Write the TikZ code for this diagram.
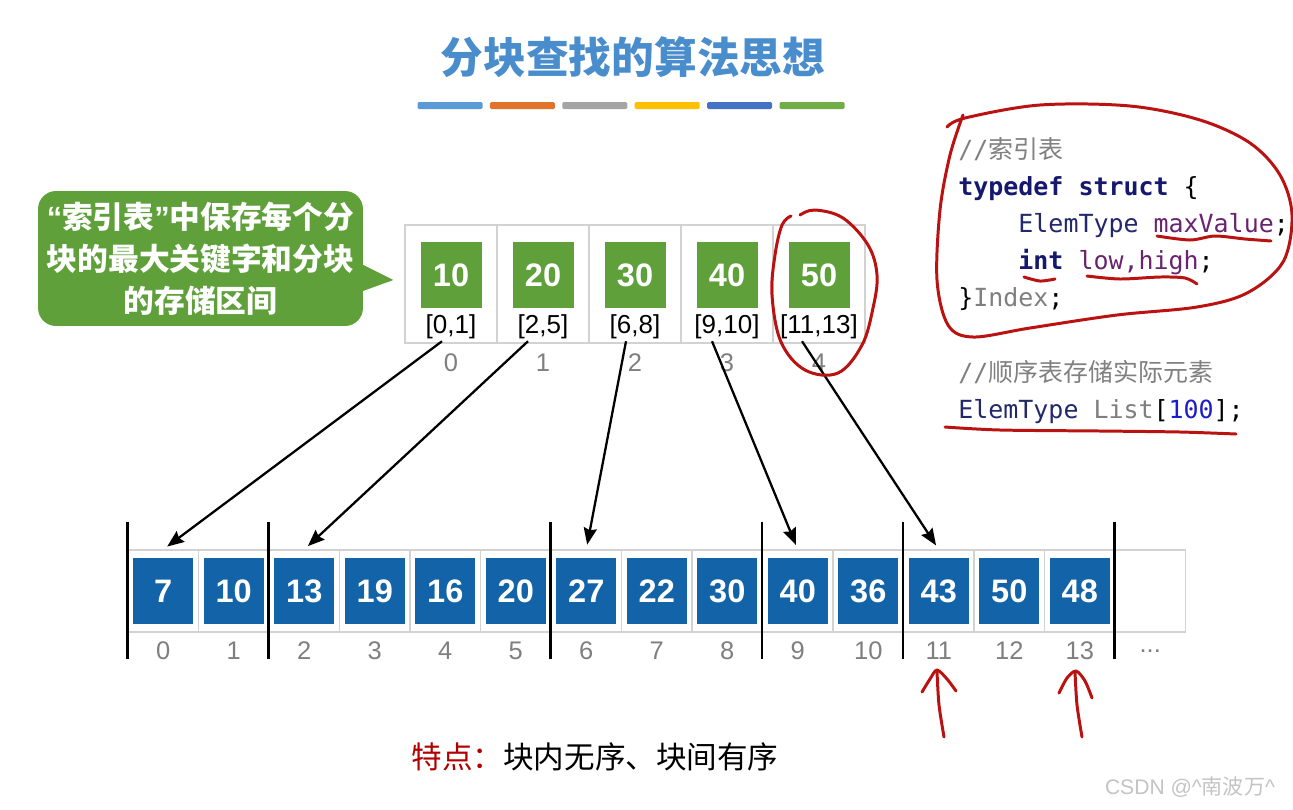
\documentclass[tikz,border=0pt]{standalone}
\usepackage{fontspec}
\setmainfont{Liberation Sans}
\newfontfamily\cjk{Noto Sans CJK SC}
\newfontfamily\codefont{DejaVu Sans Mono}
\usepackage{xcolor}
\usetikzlibrary{
    positioning,
    arrows.meta,
    calc
}

\definecolor{titleblue}{RGB}{74,141,204}
\definecolor{barA}{HTML}{5B9BD5}
\definecolor{barB}{HTML}{E2732A}
\definecolor{barC}{HTML}{A5A5A5}
\definecolor{barD}{HTML}{FFC000}
\definecolor{barE}{HTML}{4472C4}
\definecolor{barF}{HTML}{70AD47}
\definecolor{leafgreen}{HTML}{5FA03B}
\definecolor{arrblue}{HTML}{1263A7}
\definecolor{cellgray}{HTML}{D2D2D2}
\definecolor{idxgray}{HTML}{7F7F7F}
\definecolor{inkred}{HTML}{BA1111}
\definecolor{featred}{HTML}{B00000}
\definecolor{wmgray}{HTML}{C4C4C4}
\definecolor{kwnavy}{HTML}{15186E}
\definecolor{tynavy}{HTML}{22286A}
\definecolor{vrpurple}{HTML}{6A236F}
\definecolor{cmtgray}{HTML}{808080}
\definecolor{numblue}{HTML}{1C1CC8}

% code colouring
\newcommand{\kwd}[1]{\textcolor{kwnavy}{\bfseries #1}}
\newcommand{\typ}[1]{\textcolor{tynavy}{#1}}
\newcommand{\vrb}[1]{\textcolor{vrpurple}{#1}}
\newcommand{\gry}[1]{\textcolor{idxgray}{#1}}
\newcommand{\cmt}[1]{\textcolor{cmtgray}{#1}}
\newcommand{\nmb}[1]{\textcolor{numblue}{#1}}

\begin{document}
\begin{tikzpicture}[x=0.02cm, y=-0.02cm,
    bar/.style={minimum width=1.3cm, minimum height=0.14cm, inner sep=0pt, rounded corners=0.8pt},
    callout/.style={fill=leafgreen, rounded corners=0.36cm, minimum width=6.5cm, minimum height=2.7cm,
                    text=white, align=center, font=\cjk\bfseries\fontsize{17.5}{24}\selectfont},
    icell/.style={draw=cellgray, line width=0.6pt, minimum width=1.84cm, minimum height=2.36cm},
    gblk/.style={fill=leafgreen, text=white, minimum width=1.22cm, minimum height=1.32cm,
                 inner sep=0pt, font=\bfseries\fontsize{18.5}{18}\selectfont},
    ivl/.style={inner sep=1pt, font=\fontsize{14.8}{16}\selectfont},
    idx/.style={inner sep=0pt, text=idxgray, font=\fontsize{14.5}{16}\selectfont},
    cell/.style={draw=cellgray, line width=0.6pt, minimum width=1.41cm, minimum height=1.64cm},
    bblk/.style={fill=arrblue, text=white, minimum width=1.2cm, minimum height=1.32cm,
                 inner sep=0pt, font=\bfseries\fontsize{18.5}{18}\selectfont},
    sepline/.style={line width=1.7pt},
    arr/.style={-{Stealth[length=9.5pt, width=7.5pt, inset=1.2pt]}, line width=1.3pt, shorten >=2.8pt},
    code/.style={anchor=base west, inner sep=0pt, font=\codefont\fontsize{14.2}{17}\selectfont},
    ink/.style={draw=inkred, line width=1.7pt, line cap=round, line join=round}]

    \fill[white] (0,0) rectangle (1293,809);
    \useasboundingbox (0,0) rectangle (1293,809);

    % === TITLE ===
    \node[font=\cjk\bfseries\fontsize{24.3}{26}\selectfont, text=titleblue] (title) at (633,57) {分块查找的算法思想};
    \foreach \c [count=\i from 0] in {barA,barB,barC,barD,barE,barF}
        \node[bar, fill=\c] (bar\i) at ({450+72.4*\i},105.5) {};

    % === Callout ===
    \node[callout] (note) at (200.5,258.5)
      {{\rmfamily“}索引表{\rmfamily”}中保存每个分\\块的最大关键字和分块\\的存储区间};
    \fill[leafgreen] ($(note.east)+(-6,3.5)$) -- ($(note.east)+(30,21.5)$) -- ($(note.east)+(-6,34.5)$) -- cycle;

    % === Index table ===
    \foreach \v/\r [count=\i from 0] in {10/{[0,1]},20/{[2,5]},30/{[6,8]},40/{[9,10]},50/{[11,13]}} {
        \node[icell] (t\i) at ({451+92*\i},284) {};
        \node[gblk] (g\i) at ({451+92*\i},275) {\v};
        \node[ivl] (r\i) at ({451+92*\i},327) {\r};
        \node[idx] (ti\i) at ([yshift=-0.38cm]t\i.south) {\i};
    }

    % === Sequential list ===
    \foreach \v [count=\i from 0] in {7,10,13,19,16,20,27,22,30,40,36,43,50,48} {
        \node[cell] (c\i) at ({163.25+70.5*\i},591) {};
        \node[bblk] (a\i) at (c\i) {\v};
        \node[idx] (ai\i) at ([yshift=-0.36cm]c\i.south) {\i};
    }
    \node[cell] (c14) at ({163.25+70.5*14},591) {};
    \node[idx] (dots) at ([yshift=-0.38cm]c14.south) {...};

    % block borders
    \foreach \k in {0,2,6,9,11,14}
        \draw[sepline] ([yshift=0.56cm]c\k.north west) -- ([yshift=-0.52cm]c\k.south west);

    % index -> first element of block
    \draw[arr] ([xshift=-0.18cm]r0.south) -- (c0.north);
    \draw[arr] ([xshift=-0.30cm]r1.south) -- (c2.north);
    \draw[arr] ([xshift=-0.18cm]r2.south) -- (c6.north);
    \draw[arr] ([xshift=-0.30cm]r3.south) -- (c9.north);
    \draw[arr] ([xshift=-0.34cm]r4.south) -- (c11.north);

    % === Code ===
    \node[code] (l1) at (958,158) {\cmt{//\cjk 索引表}};
    \node[code] (l2) at (958,195) {\kwd{typedef} \kwd{struct} \{};
    \node[code] (l3) at (958,232) {\phantom{xxxx}\typ{ElemType} \vrb{maxValue};};
    \node[code] (l4) at (958,269) {\phantom{xxxx}\kwd{int} \vrb{low,high};};
    \node[code] (l5) at (958,306) {\}\gry{Index};};
    \node[code] (l6) at (958,381) {\cmt{//\cjk 顺序表存储实际元素}};
    \node[code] (l7) at (958,418) {\typ{ElemType} \gry{List}[\nmb{100}];};

    % === Hand-drawn marks ===
    \draw[ink] plot[smooth, tension=0.55] coordinates {(947,127) (965,118) (1040,105) (1130,106) (1200,120)
        (1250,143) (1280,175) (1292,215) (1283,262) (1247,293) (1197,307) (1117,315) (1030,328) (973,337)
        (948,325) (937,280) (940,210) (950,155) (963,115)};
    \draw[ink] plot[smooth, tension=0.6] coordinates {(800,215) (815,210) (843,218) (868,245) (877,275)
        (873,308) (862,345) (838,373) (805,370) (781,342) (772,295) (775,255) (782,225) (791,216)};
    \draw[ink] plot[smooth] coordinates {(1157,236) (1190,240) (1215,236) (1245,239) (1271,241)};
    \draw[ink] plot[smooth] coordinates {(1024,277) (1040,281) (1055,279)};
    \draw[ink] plot[smooth] coordinates {(1087,276) (1120,279) (1160,277) (1185,278) (1197,284)};
    \draw[ink] plot[smooth] coordinates {(945,427) (1000,430) (1100,431) (1180,432) (1236,434)};
    \draw[ink] plot[smooth] coordinates {(944,737) (939,705) (937,672)};
    \draw[ink] plot[smooth] coordinates {(922,692) (930,679) (937,670) (947,679) (956,691)};
    \draw[ink] plot[smooth] coordinates {(1082,737) (1077,705) (1075,672)};
    \draw[ink] plot[smooth] coordinates {(1059,693) (1067,678) (1076,671) (1085,681) (1092,698)};

    % === Bottom ===
    \node[font=\cjk\fontsize{17.4}{20}\selectfont] (feat) at (595,757)
      {\textcolor{featred}{特点：}块内无序、块间有序};
    \node[font=\fontsize{12}{14}\selectfont, text=wmgray] (wm) at (1190,787)
      {CSDN @\textasciicircum{\cjk 南波万}\textasciicircum};

\end{tikzpicture}
\end{document}
